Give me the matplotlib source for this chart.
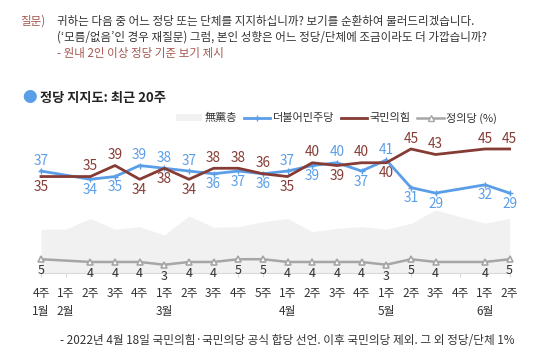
import matplotlib.pyplot as plt
from matplotlib.lines import Line2D
from matplotlib.patches import Patch
import numpy as np

plt.rcParams['font.family'] = ['Noto Sans CJK KR', 'DejaVu Sans']

# Data (20 weeks, None = no survey that week)
weeks = ["4주", "1주", "2주", "3주", "4주", "1주", "2주", "3주", "4주", "5주",
         "1주", "2주", "3주", "4주", "1주", "2주", "3주", "4주", "1주", "2주"]
months = {0: "1월", 1: "2월", 5: "3월", 10: "4월", 14: "5월", 18: "6월"}
dem = [37, None, 34, 35, 39, 38, 37, 36, 37, 36, 37, 39, 40, 37, 41, 31, 29, None, 32, 29]
ppp = [35, None, 35, 39, 34, 38, 34, 38, 38, 36, 35, 40, 39, 40, 40, 45, 43, None, 45, 45]
jus = [5, None, 4, 4, 4, 3, 4, 4, 5, 5, 4, 4, 4, 4, 3, 5, 4, None, 4, 5]
indep = [15.9, 15.9, 19.8, 15.9, 16.8, 13.8, 20.7, 16.6, 16.8, 18.6,
         19.8, 15.0, 16.2, 16.8, 15.9, 18.0, 22.9, 20.4, 18.1, 19.8]
# which label goes on top when the two big parties tie
tie_dem_up = {5: True, 9: False}

BLUE = '#5b9ee8'
BROWN = '#863b34'
GRAY = '#a6a6a6'
TXT = '#333333'
QCOL = '#a5574f'

W, H = 541, 355
fig = plt.figure(figsize=(W / 100, H / 100), dpi=100)

x0, x1 = 41, 509.6
y0, ytop = 273, 135.2
ax = fig.add_axes([x0 / W, 1 - y0 / H, (x1 - x0) / W, (y0 - ytop) / H])
ax.set_xlim(0, 19)
ax.set_ylim(0, 50)

x = np.arange(len(weeks))
ax.fill_between(x, 0, indep, color='#f1f1f1', lw=0, zorder=1)


def valid(vals):
    idx = [i for i, v in enumerate(vals) if v is not None]
    return np.array(idx), np.array([vals[i] for i in idx])


xj, yj = valid(jus)
ax.plot(xj, yj, color=GRAY, lw=1.8, marker='^', ms=5, mfc='white',
        mec=GRAY, mew=1.2, zorder=3, clip_on=False)
xd, yd = valid(dem)
ax.plot(xd, yd, color=BLUE, lw=2, marker='+', ms=4, mew=1, zorder=4, clip_on=False)
xp, yp = valid(ppp)
ax.plot(xp, yp, color=BROWN, lw=2, zorder=5, clip_on=False)

for i in xd:
    d, p = dem[i], ppp[i]
    up = tie_dem_up.get(i, d > p)
    ax.annotate(str(d), (i, d), xytext=(0, 2.5 if up else -2.5), textcoords='offset points',
                ha='center', va='bottom' if up else 'top', color=BLUE, fontsize=9.8)
    ax.annotate(str(p), (i, p), xytext=(0, -2.5 if up else 2.5), textcoords='offset points',
                ha='center', va='top' if up else 'bottom', color=BROWN, fontsize=9.8)

for i, v in zip(xj, yj):
    ax.annotate(str(v), (i, v), xytext=(0, -3.5), textcoords='offset points',
                ha='center', va='top', color=TXT, fontsize=9)

for s in ['top', 'left', 'right']:
    ax.spines[s].set_visible(False)
ax.spines['bottom'].set_color('#d9d9d9')
ax.set_yticks([])
ax.set_xticks(x)
ax.set_xticklabels([])
ax.tick_params(axis='x', color='#d9d9d9', length=3, width=0.8)

for i, w in enumerate(weeks):
    px = x0 + (x1 - x0) * i / 19
    fig.text(px / W, 1 - 293.5 / H, w, ha='center', va='center', fontsize=8.5, color=TXT)
for i, m in months.items():
    px = x0 + (x1 - x0) * i / 19
    fig.text(px / W, 1 - 312 / H, m, ha='center', va='center', fontsize=8.5, color=TXT)

# question header
fig.text(20 / W, 1 - 21 / H, "질문)", fontsize=8.3, color=QCOL, va='center')
fig.text(57 / W, 1 - 21 / H, "귀하는 다음 중 어느 정당 또는 단체를 지지하십니까? 보기를 순환하여 불러드리겠습니다.",
         fontsize=8.3, color=TXT, va='center')
fig.text(57 / W, 1 - 37 / H, "(‘모름/없음’인 경우 재질문) 그럼, 본인 성향은 어느 정당/단체에 조금이라도 더 가깝습니까?",
         fontsize=8.3, color=TXT, va='center')
fig.text(57 / W, 1 - 53 / H, "- 원내 2인 이상 정당 기준 보기 제시", fontsize=8.3, color=QCOL, va='center')

# section title
fig.text(30 / W, 1 - 98 / H, "●", fontsize=10.5, color=BLUE, va='center', ha='center')
fig.text(40 / W, 1 - 98 / H, "정당 지지도: 최근 20주", fontsize=9.5, color='#222222',
         va='center', fontweight='bold')

handles = [Patch(facecolor='#f1f1f1', edgecolor='none'),
           Line2D([], [], color=BLUE, lw=2, marker='+', ms=4),
           Line2D([], [], color=BROWN, lw=2),
           Line2D([], [], color=GRAY, lw=1.8, marker='^', ms=5, mfc='white', mec=GRAY)]
fig.legend(handles, ["無黨층", "더불어민주당", "국민의힘", "정의당 (%)"], ncol=4,
           loc='center right', bbox_to_anchor=(505 / W, 1 - 118 / H), frameon=False,
           fontsize=8, handlelength=2.35, handleheight=0.5, handletextpad=0.25,
           columnspacing=0.6, labelcolor=TXT, borderpad=0.2)

fig.text(60 / W, 1 - 340 / H,
         "- 2022년 4월 18일 국민의힘·국민의당 공식 합당 선언. 이후 국민의당 제외. 그 외 정당/단체 1%",
         fontsize=8.4, color=TXT, va='center')

fig.savefig('out.png', dpi=100)
